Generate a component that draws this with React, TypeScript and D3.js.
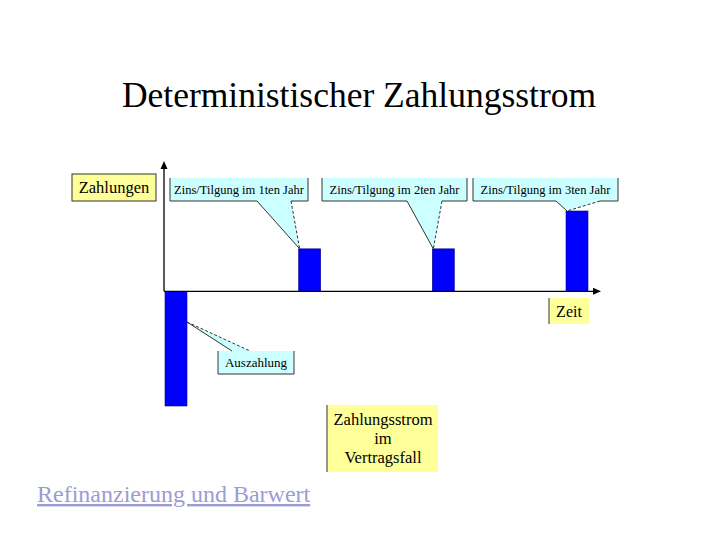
import * as d3 from "d3";

// Zeitpunkte (Jahre) und Zahlungen
const years = [0, 1, 2, 3];
const payments = [-100, 37, 37, 70];
const calloutLabels = [
  "Auszahlung",
  "Zins/Tilgung im 1ten Jahr",
  "Zins/Tilgung im 2ten Jahr",
  "Zins/Tilgung im 3ten Jahr",
];

const W = 720;
const H = 540;
const SERIF = "Liberation Serif";
const BLUE = "#0000ff";
const CYAN = "#ccffff";
const YELLOW = "#ffff99";

// callout boxes: box rect, pointer base x positions (on bottom edge)
const topBoxes = [
  { x: 170, y: 178, w: 138, h: 23, b1: 257, b2: 291 },
  { x: 322, y: 178, w: 145, h: 23, b1: 407, b2: 442 },
  { x: 473, y: 178, w: 145, h: 23, b1: 556, b2: 600 },
];

export default function App() {
  const x = d3.scaleLinear().domain([0, 3]).range([165, 566]);
  const y = d3.scaleLinear().domain([-100, 70]).range([406, 211]);
  const barW = 22;
  const x0 = 164;
  const y0 = y(0);

  return (
    <svg
      width={W}
      height={H}
      style={{ position: "absolute", left: 0, top: 0, background: "#fff" }}
      fontFamily={SERIF}
    >
      <text x={359} y={107} textAnchor="middle" fontSize={35.5} fill="#000">
        Deterministischer Zahlungsstrom
      </text>

      {/* bars */}
      {years.map((t, i) => (
        <rect
          key={t}
          x={x(t)}
          y={Math.min(y(payments[i]), y0)}
          width={barW}
          height={Math.abs(y(payments[i]) - y0)}
          fill={BLUE}
          stroke="#00008b"
          strokeWidth={0.6}
        />
      ))}

      {/* axes */}
      <line x1={x0} y1={y0} x2={x0} y2={168} stroke="#000" strokeWidth={1.3} />
      <path d={`M${x0 - 3.5},${169} L${x0},${161} L${x0 + 3.5},${169} Z`} fill="#000" />
      <line x1={x0} y1={y0} x2={594} y2={y0} stroke="#000" strokeWidth={1.3} />
      <path d={`M${593},${y0 - 3.5} L${601},${y0} L${593},${y0 + 3.5} Z`} fill="#000" />

      {/* Zahlungen label */}
      <rect x={72} y={174} width={84} height={27} fill={YELLOW} stroke="#333" strokeWidth={1} />
      <text x={114} y={193} textAnchor="middle" fontSize={16.5}>
        Zahlungen
      </text>

      {/* top callouts */}
      {topBoxes.map((b, i) => {
        const tx = x(years[i + 1]) + 1;
        const ty = y(payments[i + 1]);
        const bottom = b.y + b.h;
        const poly = `M${b.x},${b.y} L${b.x + b.w},${b.y} L${b.x + b.w},${bottom} L${b.b2},${bottom} L${tx},${ty} L${b.b1},${bottom} L${b.x},${bottom} Z`;
        return (
          <g key={i}>
            <path d={poly} fill={CYAN} />
            <line x1={b.x} y1={b.y} x2={b.x} y2={bottom} stroke="#333" />
            <line x1={b.x + b.w} y1={b.y} x2={b.x + b.w} y2={bottom} stroke="#333" />
            <line x1={b.x} y1={bottom} x2={b.b1} y2={bottom} stroke="#333" />
            <line x1={b.b2} y1={bottom} x2={b.x + b.w} y2={bottom} stroke="#333" />
            <line x1={b.b1} y1={bottom} x2={tx} y2={ty} stroke="#333" />
            <line x1={b.b2} y1={bottom} x2={tx} y2={ty} stroke="#333" strokeDasharray="3,2" />
            <text x={b.x + b.w / 2} y={b.y + 16} textAnchor="middle" fontSize={12.5}>
              {calloutLabels[i + 1]}
            </text>
          </g>
        );
      })}

      {/* Auszahlung callout */}
      {(() => {
        const bx = 218, by = 351, bw = 76, bh = 23;
        const tx = x(years[0]) + barW;
        const ty = 322;
        const poly = `M${tx},${ty} L${250},${by} L${bx + bw},${by} L${bx + bw},${by + bh} L${bx},${by + bh} L${bx},${by} L${232},${by} Z`;
        return (
          <g>
            <path d={poly} fill={CYAN} />
            <line x1={bx} y1={by} x2={bx} y2={by + bh} stroke="#333" />
            <line x1={bx + bw} y1={by} x2={bx + bw} y2={by + bh} stroke="#333" />
            <line x1={bx} y1={by + bh} x2={bx + bw} y2={by + bh} stroke="#333" />
            <line x1={tx} y1={ty} x2={232} y2={by} stroke="#333" />
            <line x1={tx} y1={ty} x2={250} y2={by} stroke="#333" strokeDasharray="3,2" />
            <text x={bx + bw / 2} y={by + 16} textAnchor="middle" fontSize={13}>
              {calloutLabels[0]}
            </text>
          </g>
        );
      })()}

      {/* Zeit label */}
      <rect x={549} y={298} width={40} height={26} fill={YELLOW} />
      <line x1={549} y1={298} x2={549} y2={324} stroke="#333" />
      <text x={569} y={317} textAnchor="middle" fontSize={16}>
        Zeit
      </text>

      {/* Zahlungsstrom im Vertragsfall */}
      <rect x={327} y={405} width={111} height={67} fill={YELLOW} />
      <line x1={327} y1={405} x2={327} y2={472} stroke="#333" />
      {["Zahlungsstrom", "im", "Vertragsfall"].map((s, i) => (
        <text key={s} x={383} y={425 + i * 19} textAnchor="middle" fontSize={16.5} fill="#000">
          {s}
        </text>
      ))}

      {/* footer link */}
      <text x={37} y={502} fontSize={24} fill="#9c9cd4" textDecoration="underline">
        Refinanzierung und Barwert
      </text>
    </svg>
  );
}
